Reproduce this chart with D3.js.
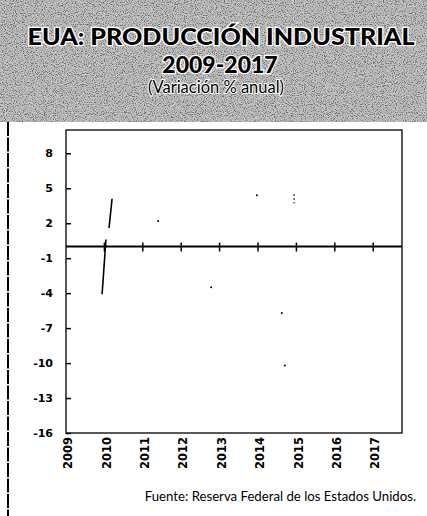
<!DOCTYPE html>
<html>
<head>
<meta charset="utf-8">
<script src="https://cdn.jsdelivr.net/npm/d3@7"></script>
<style>
  body { margin: 0; background: #fff; }
  svg { display: block; }
</style>
</head>
<body>
<div id="chart"></div>
<script>
// visible fragments of the series (null = gap where the trace is lost)
var lineYears  = [2009.94, 2010.04, null, 2010.12, 2010.20];
var lineValues = [-4.1, 0.6, null, 1.6, 4.1];

// isolated points left on the sheet
var dotYears  = [2011.40, 2012.78, 2013.97, 2014.62, 2014.70];
var dotValues = [2.2, -3.5, 4.4, -5.7, -10.2];
var stubYears  = [2014.94, 2014.94];
var stubValues = [4.5, 3.7];

var yearTicks  = [2009, 2010, 2011, 2012, 2013, 2014, 2015, 2016, 2017];
var valueTicks = [8, 5, 2, -1, -4, -7, -10, -13, -16];

var titleLines = ["EUA: PRODUCCIÓN INDUSTRIAL", "2009-2017", "(Variación % anual)"];
var source = "Fuente:  Reserva Federal de los Estados Unidos.";

var W = 427, H = 516;
var svg = d3.select('#chart').append('svg')
  .attr('width', W)
  .attr('height', H);

// speckled header background
var defs = svg.append('defs');
var f = defs.append('filter').attr('id', 'grain')
  .attr('x', 0).attr('y', 0).attr('width', '100%').attr('height', '100%');
f.append('feTurbulence')
  .attr('type', 'fractalNoise')
  .attr('baseFrequency', 0.9)
  .attr('numOctaves', 2)
  .attr('seed', 7)
  .attr('result', 't');
f.append('feColorMatrix').attr('in', 't').attr('type', 'matrix')
  .attr('values', '3 0 0 0 -1.0  3 0 0 0 -1.0  3 0 0 0 -1.0  0 0 0 0 1');

svg.append('rect')
  .attr('x', 0).attr('y', 0).attr('width', W).attr('height', 122)
  .attr('fill', '#b0b0b0');
svg.append('rect')
  .attr('x', 0).attr('y', 0).attr('width', W).attr('height', 122)
  .attr('filter', 'url(#grain)')
  .attr('opacity', 0.35);

// title
var title = svg.append('g')
  .attr('font-family', 'Lato, "Open Sans", sans-serif')
  .attr('text-anchor', 'middle');
title.append('text')
  .attr('x', 221).attr('y', 45)
  .attr('font-size', 23).attr('font-weight', 900)
  .attr('textLength', 387).attr('lengthAdjust', 'spacingAndGlyphs')
  .attr('fill', '#000').attr('stroke', '#fff').attr('stroke-width', 2.5)
  .attr('paint-order', 'stroke')
  .text(titleLines[0]);
title.append('text')
  .attr('x', 220).attr('y', 73)
  .attr('font-size', 23).attr('font-weight', 900)
  .attr('fill', '#000').attr('stroke', '#fff').attr('stroke-width', 2.5)
  .attr('paint-order', 'stroke')
  .text(titleLines[1]);
title.append('text')
  .attr('x', 216).attr('y', 93)
  .attr('font-size', 16.5)
  .attr('fill', '#000').attr('stroke', '#fff').attr('stroke-width', 2)
  .attr('paint-order', 'stroke')
  .text(titleLines[2]);

// left border of the panel
svg.append('line')
  .attr('x1', 8).attr('y1', 122).attr('x2', 8).attr('y2', H)
  .attr('stroke', '#000').attr('stroke-width', 2)
  .attr('stroke-dasharray', '14,1.5');

var x = d3.scaleLinear().domain([2009, 2017.75]).range([66, 402]);
var y = d3.scaleLinear().domain([-16, 10]).range([433, 130]);

// plot frame
svg.append('rect')
  .attr('x', x.range()[0]).attr('y', y.range()[1])
  .attr('width', x.range()[1] - x.range()[0])
  .attr('height', y.range()[0] - y.range()[1])
  .attr('fill', 'none').attr('stroke', '#222').attr('stroke-width', 1.5);

// y axis, ticks pointing inward
var yAxis = svg.append('g')
  .attr('transform', 'translate(' + x.range()[0] + ',0)')
  .call(d3.axisRight(y).tickValues(valueTicks).tickSize(5).tickFormat(''));
yAxis.select('.domain').remove();
yAxis.selectAll('line').attr('stroke', '#000').attr('stroke-width', 1.5);

svg.append('g').selectAll('text').data(valueTicks)
  .enter().append('text')
  .attr('x', 53)
  .attr('y', function (d) { return y(d); })
  .attr('dy', '0.36em')
  .attr('text-anchor', 'end')
  .attr('font-family', '"DejaVu Sans", sans-serif')
  .attr('font-size', 11).attr('font-weight', 'bold')
  .text(function (d) { return d; });

// zero line with year ticks
svg.append('line')
  .attr('x1', x.range()[0]).attr('x2', x.range()[1])
  .attr('y1', y(0)).attr('y2', y(0))
  .attr('stroke', '#000').attr('stroke-width', 2);
svg.append('g').selectAll('line').data(yearTicks.slice(1))
  .enter().append('line')
  .attr('x1', function (d) { return x(d); })
  .attr('x2', function (d) { return x(d); })
  .attr('y1', y(0) - 4).attr('y2', y(0) + 5)
  .attr('stroke', '#000').attr('stroke-width', 1.5);

// year labels, rotated
svg.append('g').selectAll('text').data(yearTicks)
  .enter().append('text')
  .attr('transform', function (d) { return 'translate(' + (x(d) + 2) + ',437) rotate(-90)'; })
  .attr('dy', '0.36em')
  .attr('text-anchor', 'end')
  .attr('font-family', '"DejaVu Sans", sans-serif')
  .attr('font-size', 11.5).attr('font-weight', 'bold')
  .text(function (d) { return d; });

// series fragments
var pts = lineYears.map(function (d, i) { return { x: d, v: lineValues[i] }; });
var line = d3.line()
  .defined(function (d) { return d.x !== null; })
  .x(function (d) { return x(d.x); })
  .y(function (d) { return y(d.v); });
svg.append('path')
  .datum(pts)
  .attr('d', line)
  .attr('fill', 'none')
  .attr('stroke', '#000')
  .attr('stroke-width', 1.6);

var stub = stubYears.map(function (d, i) { return { x: d, v: stubValues[i] }; });
svg.append('path')
  .datum(stub)
  .attr('d', line)
  .attr('fill', 'none')
  .attr('stroke', '#333')
  .attr('stroke-width', 1.2)
  .attr('stroke-dasharray', '2,2');

svg.append('g').selectAll('circle').data(dotYears)
  .enter().append('circle')
  .attr('cx', function (d) { return x(d); })
  .attr('cy', function (d, i) { return y(dotValues[i]); })
  .attr('r', 1)
  .attr('fill', '#000');

// source
svg.append('text')
  .attr('x', 416).attr('y', 501)
  .attr('text-anchor', 'end')
  .attr('font-family', 'Lato, sans-serif')
  .attr('font-size', 13.2)
  .attr('fill', '#000')
  .text(source);
</script>
</body>
</html>
